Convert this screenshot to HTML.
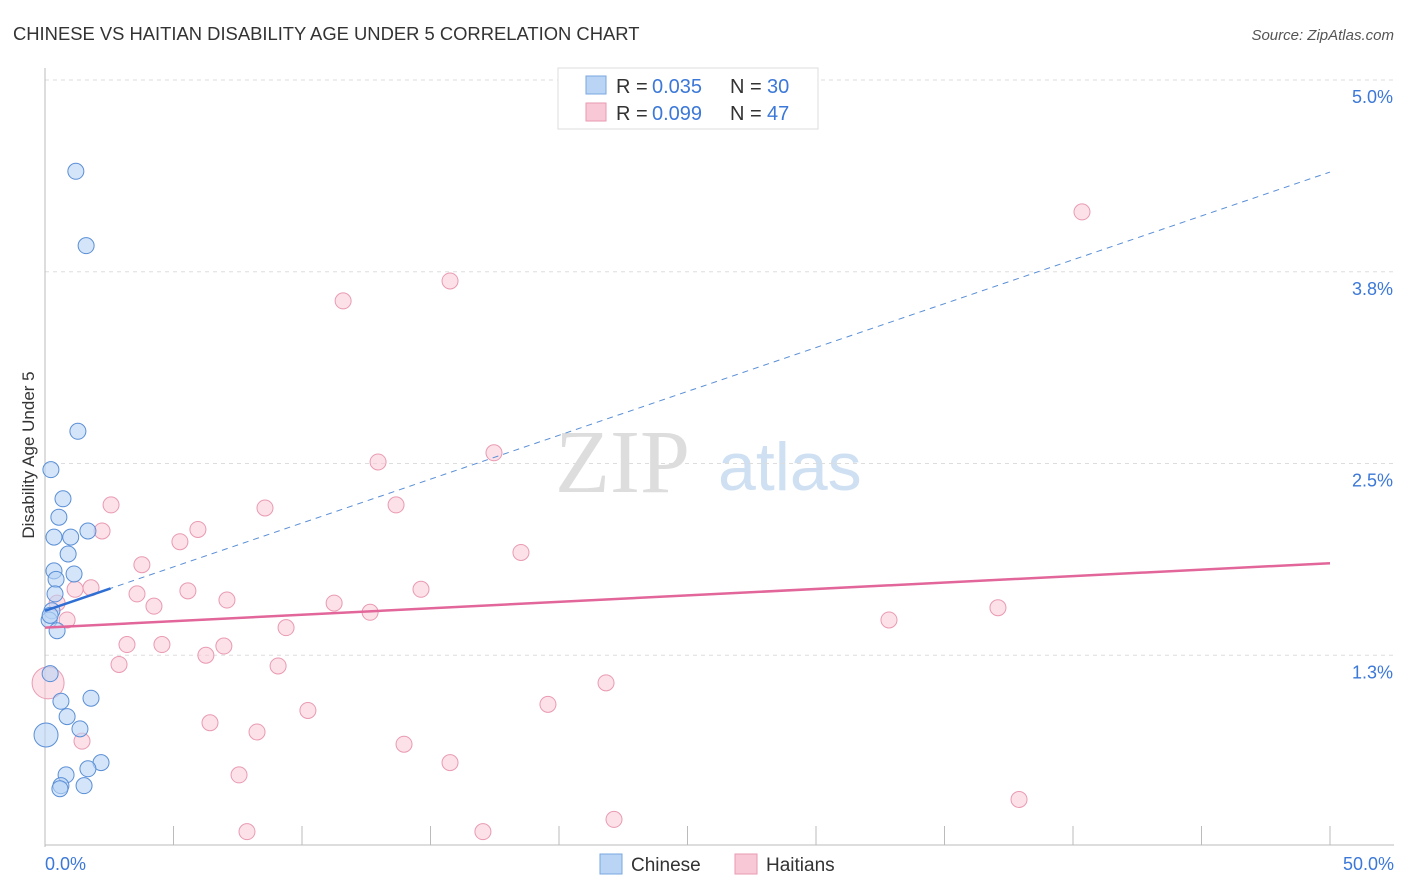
<!DOCTYPE html>
<html><head><meta charset="utf-8"><style>
body{margin:0;background:#fff;font-family:"Liberation Sans",sans-serif;}
svg{display:block}
</style></head><body>
<svg id="chart" width="1406" height="892">
<text x="13" y="40" font-size="18.4" fill="#333">CHINESE VS HAITIAN DISABILITY AGE UNDER 5 CORRELATION CHART</text>
<text x="1394" y="40" font-size="15" fill="#555" font-style="italic" text-anchor="end">Source: ZipAtlas.com</text>
<text x="555" y="492" font-size="90" fill="#ddd" font-family="Liberation Serif">ZIP</text>
<text x="718" y="490" font-size="68" fill="#cfe0f3">atlas</text>
<text transform="translate(34,455) rotate(-90)" font-size="17" fill="#333" text-anchor="middle">Disability Age Under 5</text>
<g id="grid"></g><g id="axes"></g><g id="marks"></g>
<g>
<rect x="558" y="68" width="260" height="61" fill="#fff" stroke="#ddd"/>
<rect x="586" y="76" width="20" height="18" fill="#b9d4f5" stroke="#7aa7e0"/>
<rect x="586" y="103" width="20" height="18" fill="#f9c8d6" stroke="#e99ab2"/>
<text x="616" y="93" font-size="20" fill="#333">R =</text>
<text x="652" y="93" font-size="20" fill="#3b78d8">0.035</text>
<text x="730" y="93" font-size="20" fill="#333">N =</text>
<text x="767" y="93" font-size="20" fill="#3b78d8">30</text>
<text x="616" y="120" font-size="20" fill="#333">R =</text>
<text x="652" y="120" font-size="20" fill="#3b78d8">0.099</text>
<text x="730" y="120" font-size="20" fill="#333">N =</text>
<text x="767" y="120" font-size="20" fill="#3b78d8">47</text>
</g>
<g>
<rect x="600" y="854" width="22" height="20" fill="#b9d4f5" stroke="#7aa7e0"/>
<text x="631" y="871" font-size="19" fill="#333">Chinese</text>
<rect x="735" y="854" width="22" height="20" fill="#f9c8d6" stroke="#e99ab2"/>
<text x="766" y="871" font-size="19" fill="#333">Haitians</text>
</g>
</svg>
<script>
const yTicks=[1.25,2.5,3.75,5.0];
const yTickLabels=["1.3%","2.5%","3.8%","5.0%"];
const xTickLabels=["0.0%","50.0%"];
const chineseX=[1.2,1.6,1.28,0.23,0.7,0.54,1.67,0.35,1.0,0.9,0.35,1.13,0.43,0.39,0.27,0.16,0.47,0.2,1.79,0.62,0.86,1.36,0.04,2.18,1.67,0.82,0.62,1.52,0.58,0.2];
const chineseY=[4.405,3.92,2.71,2.46,2.27,2.15,2.06,2.02,2.02,1.91,1.80,1.78,1.745,1.65,1.54,1.48,1.41,1.13,0.97,0.95,0.85,0.77,0.73,0.55,0.51,0.47,0.40,0.40,0.38,1.51];
const haitiX=[40.35,15.76,11.6,17.47,12.96,2.57,8.56,13.66,2.22,5.95,5.25,18.52,3.77,1.79,1.17,5.56,14.63,3.58,7.08,0.47,4.24,11.25,12.65,37.08,32.84,0.86,9.38,3.19,4.55,6.96,6.26,2.88,9.07,0.12,21.83,19.57,10.23,6.42,8.25,1.44,13.97,15.76,7.55,37.9,22.14,7.86,17.04];
const haitiY=[4.14,3.69,3.56,2.57,2.51,2.23,2.21,2.23,2.06,2.07,1.99,1.92,1.84,1.69,1.68,1.67,1.68,1.65,1.61,1.59,1.57,1.59,1.53,1.56,1.48,1.48,1.43,1.32,1.32,1.31,1.25,1.19,1.18,1.07,1.07,0.93,0.89,0.81,0.75,0.69,0.67,0.55,0.47,0.31,0.18,0.10,0.10];
const chineseTrend=[1.54,4.40];
const haitiTrend=[1.43,1.85];
const X=v=>45+v*25.7, Y=v=>847-v*153.4;
const NS="http://www.w3.org/2000/svg";
function mk(t,a,p){const e=document.createElementNS(NS,t);for(const k in a)e.setAttribute(k,a[k]);p.appendChild(e);return e;}
const grid=document.getElementById('grid'),axes=document.getElementById('axes'),marks=document.getElementById('marks');
yTicks.forEach((v,i)=>{
 const l=mk('line',{x1:45,x2:1394,y1:Y(v),y2:Y(v),stroke:'#ddd','stroke-dasharray':'4,4'},grid);
 
 
 const t=mk('text',{x:1393,y:Y(v)+23,'font-size':18,fill:'#3b78d8','text-anchor':'end'},axes);t.textContent=yTickLabels[i];
 
 
});
mk('line',{x1:45,x2:45,y1:68,y2:847,stroke:'#bbb'},axes);
mk('line',{x1:45,x2:1394,y1:845,y2:845,stroke:'#bbb'},axes);
for(let i=0;i<=10;i++){mk('line',{x1:X(i*5),x2:X(i*5),y1:826,y2:845,stroke:'#bbb'},axes);}
[[0,'start',45],[1,'end',1394]].forEach(([i,a,x])=>{const t=mk('text',{x:x,y:870,'font-size':18,fill:'#3b78d8','text-anchor':a},axes);t.textContent=xTickLabels[i];
 
 });
haitiX.forEach((x,i)=>{const c=mk('circle',{cx:X(x),cy:Y(haitiY[i]),r:(i==33?16:8),fill:'rgba(249,200,214,0.55)',stroke:'#e99ab2','stroke-width':1},marks);
 
 });
chineseX.forEach((x,i)=>{const c=mk('circle',{cx:X(x),cy:Y(chineseY[i]),r:(i==22?12:8),fill:'rgba(185,212,245,0.6)',stroke:'#5a8fd6','stroke-width':1},marks);
 
 });
const td=mk('line',{x1:X(0),y1:Y(chineseTrend[0]),x2:X(50),y2:Y(chineseTrend[1]),stroke:'#5a8fd6','stroke-dasharray':'6,5','stroke-width':1},marks);


const ts=mk('line',{x1:X(0),y1:Y(chineseTrend[0]),x2:X(2.55),y2:Y(chineseTrend[0]+(chineseTrend[1]-chineseTrend[0])*2.55/50),stroke:'#2f6fd4','stroke-width':2.5},marks);


const th=mk('line',{x1:X(0),y1:Y(haitiTrend[0]),x2:X(50),y2:Y(haitiTrend[1]),stroke:'#e2669a','stroke-width':2.5},marks);


</script>
</body></html>
